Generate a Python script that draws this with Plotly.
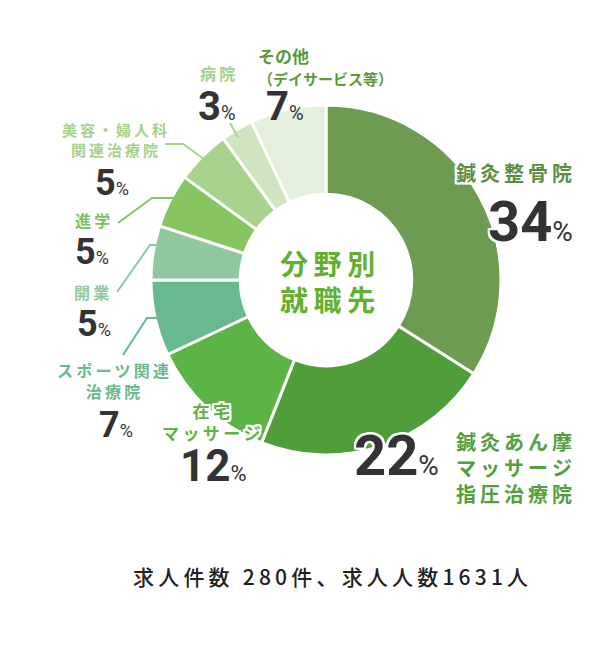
import plotly.graph_objects as go

W, H = 611, 653

# ---- data ----
categories = ["鍼灸整骨院", "鍼灸あん摩マッサージ指圧治療院", "在宅マッサージ", "スポーツ関連治療院",
              "開業", "進学", "美容・婦人科関連治療院", "病院", "その他（デイサービス等）"]
values = [34, 22, 12, 7, 5, 5, 5, 3, 7]
slice_colors = ["#6e9b52", "#4f9e3a", "#5bb445", "#68b98d", "#8fc8a0",
                "#86c562", "#a8d38c", "#cfe4c0", "#e4f0db"]
center_title = ["分野別", "就職先"]
footer = "求人件数 280件、求人人数1631人"

# ---- layout helpers ----
def px(x):
    return x / W

def py(y):
    return 1 - y / H

cx, cy, R = 326, 280, 175
SP = "\u2009"

def spaced(s):
    return SP.join(list(s))

def lines(*ls):
    return "<br>".join(spaced(l) for l in ls)

fig = go.Figure()
fig.add_trace(go.Pie(
    labels=categories, values=values, sort=False, direction="clockwise", rotation=0,
    hole=0.49, textinfo="none", hoverinfo="label+percent",
    marker=dict(colors=slice_colors, line=dict(color="white", width=3)),
    domain=dict(x=[px(cx - R), px(cx + R)], y=[py(cy + R), py(cy - R)]),
    showlegend=False,
))

WHITE_SHADOW = ", ".join(f"{dx}px {dy}px 0 #fff" for dx in (-2, -1, 0, 1, 2) for dy in (-2, -1, 0, 1, 2) if (dx, dy) != (0, 0))

JP = "Noto Sans CJK JP"
NUM = "Liberation Sans Narrow, Roboto, sans-serif"

annotations = []

def label(text, x, y, size, color, xanchor="center", align="center", shadow=False, weight=700, family=JP):
    annotations.append(dict(
        text=text, x=px(x), y=py(y), xref="paper", yref="paper", showarrow=False,
        xanchor=xanchor, yanchor="middle", align=align, borderpad=0,
        font=dict(family=family, size=size, color=color, weight=weight,
                  shadow=WHITE_SHADOW if shadow else "none"),
    ))

def pct(v, x, y, size, xanchor="center", shadow=False):
    psize = round(size * 0.5)
    text = f"{v}<span style='font-size:{psize}px;font-family:Roboto;font-weight:400'>%</span>"
    label(text, x, y, size, "#333333", xanchor=xanchor, shadow=shadow, family=NUM)

# 鍼灸整骨院
label(spaced("鍼灸整骨院"), 573, 172, 20, "#5b8f3f", xanchor="right", shadow=True)
pct(values[0], 574, 222, 56, xanchor="right", shadow=True)
# 鍼灸あん摩
pct(values[1], 440, 456, 56, xanchor="right", shadow=True)
label(lines("鍼灸あん摩", "マッサージ", "指圧治療院"), 455, 467, 20, "#52a03c", xanchor="left", align="left")
# 在宅マッサージ
label(lines("在宅", "マッサージ"), 212, 421, 17, "#5bb445", shadow=True)
pct(values[2], 213, 466, 44)
# スポーツ関連治療院
label(lines("スポーツ関連", "治療院"), 113, 380, 16, "#68b98d")
pct(values[3], 116, 425, 36)
# 開業
label(spaced("開業"), 91, 292, 16, "#8fc8a0")
pct(values[4], 94, 324, 36)
# 進学
label(spaced("進学"), 92, 220, 16, "#7ec25a")
pct(values[5], 92, 252, 36)
# 美容・婦人科関連治療院
label(lines("美容・婦人科", "関連治療院"), 114, 140, 15, "#a5d18a")
pct(values[6], 112, 183, 36)
# 病院
label(spaced("病院"), 217, 73, 16, "#a5d18a")
pct(values[7], 217, 106, 40)
# その他
label("その他<br><span style='font-size:15px'>（デイサービス等）</span>", 257, 66, 17, "#5a9a3a",
      xanchor="left", align="left")
pct(values[8], 265, 106, 40, xanchor="left")

# center
label(lines(*center_title), cx + 1, 281, 28, "#62b030")

# footer
label(spaced(footer), 330, 576, 21, "#222222", weight=500)

# leader lines (pixel positions of label connectors)
leaders = [
    ([(230, 123), (238, 137)], "#a8d38c"),
    ([(165, 144), (183, 144), (208, 162)], "#a8d38c"),
    ([(118, 223), (152, 198), (178, 198)], "#86c562"),
    ([(117, 292), (150, 245), (165, 245)], "#8fc8a0"),
    ([(123, 355), (147, 318), (165, 318)], "#68b98d"),
]
shapes = []
for pts, col in leaders:
    path = "M " + " L ".join(f"{px(x):.5f},{py(y):.5f}" for x, y in pts)
    shapes.append(dict(type="path", path=path, xref="paper", yref="paper",
                       line=dict(color=col, width=2)))

fig.update_layout(
    width=W, height=H, margin=dict(l=0, r=0, t=0, b=0),
    paper_bgcolor="white", plot_bgcolor="white",
    annotations=annotations, shapes=shapes,
)

fig.write_html("out.html", config={"displayModeBar": False})
